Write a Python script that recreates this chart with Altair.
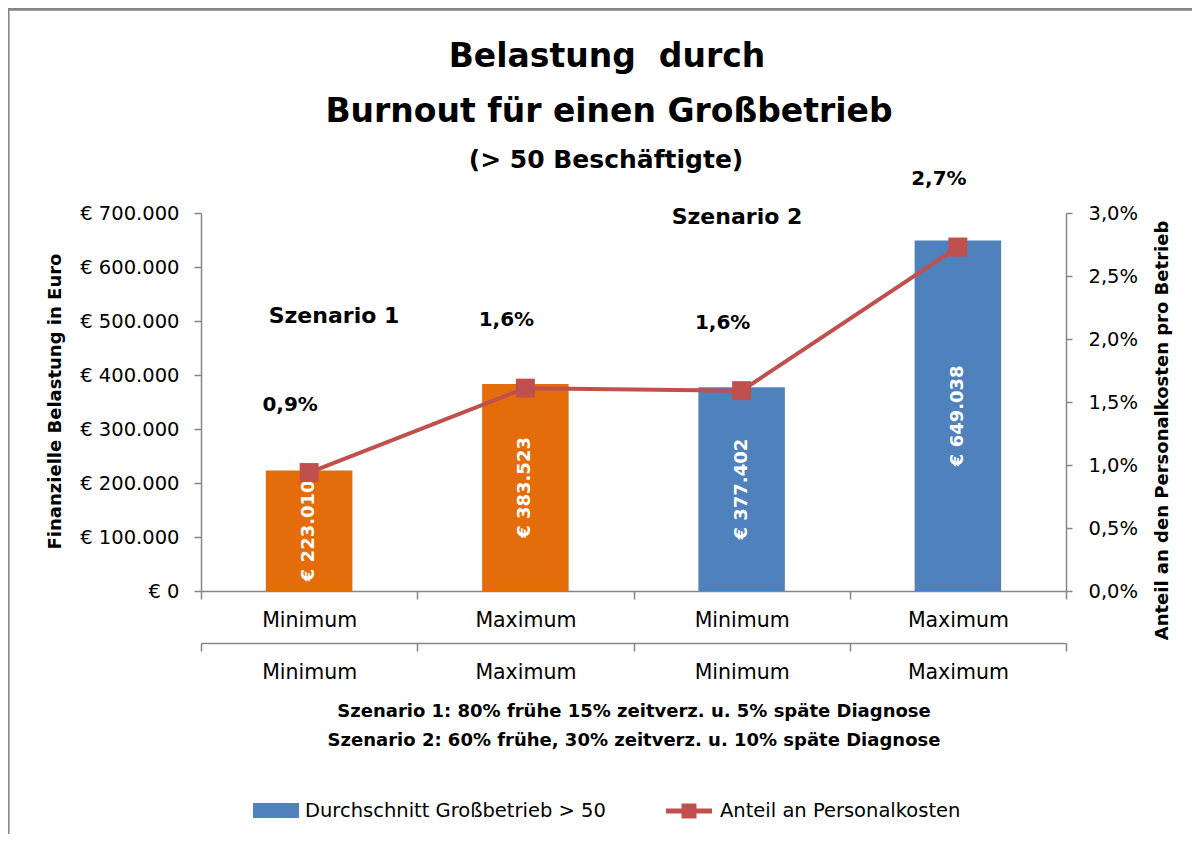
import json
import altair as alt
import pandas as pd

# ---------------- data ----------------
categories = ["1", "2", "3", "4"]
level_labels = ["Minimum", "Maximum", "Minimum", "Maximum"]
scenarios = ["Szenario 1", "Szenario 1", "Szenario 2", "Szenario 2"]
costs = [223010, 383523, 377402, 649038]
shares = [0.0094, 0.0161, 0.0159, 0.0273]
cost_ticks = [0, 100000, 200000, 300000, 400000, 500000, 600000, 700000]
share_ticks = [0.0, 0.005, 0.01, 0.015, 0.02, 0.025, 0.03]

title_lines = ["Belastung\u00a0 durch", "Burnout für einen Großbetrieb"]
subtitle = "(> 50 Beschäftigte)"
axis_note = [
    "Szenario 1: 80% frühe 15% zeitverz. u. 5% späte Diagnose",
    "Szenario 2: 60% frühe, 30% zeitverz. u. 10% späte Diagnose",
]
legend_labels = ["Durchschnitt Großbetrieb > 50", "Anteil an Personalkosten"]
scenario_names = ["Szenario 1", "Szenario 2"]

df = pd.DataFrame({
    "id": categories,
    "label": level_labels,
    "scenario": scenarios,
    "cost": costs,
    "share": shares,
})
one = pd.DataFrame({"k": [0]})

# ---------------- style ----------------
FONT = "DejaVu Sans"
GRAY = "#868686"
ORANGE = "#E46C0A"
BLUE = "#4F81BD"
RED = "#C0504D"
W, H = 865, 378

label_expr = json.dumps(level_labels) + "[toNumber(datum.value) - 1]"
euro_expr = "'€ ' + replace(format(datum.value, ','), regexp(',', 'g'), '.')"
pct_expr = "replace(format(datum.value, '.1%'), '.', ',')"

x_scale = alt.Scale(domain=categories, paddingInner=0, paddingOuter=0)

x_axis1 = alt.Axis(
    title=None, labelExpr=label_expr, labelAngle=0, tickBand="extent",
    tickSize=8, labelPadding=11, labelFont=FONT, labelFontSize=20.5,
    labelColor="black", domainColor=GRAY, tickColor=GRAY,
    domainWidth=1.5, tickWidth=1.5, grid=False,
)
x_axis2 = alt.Axis(
    orient="bottom", offset=52, labelExpr=label_expr, labelAngle=0,
    tickBand="extent", tickSize=8, labelPadding=11, labelFont=FONT,
    labelFontSize=20.5, labelColor="black", domainColor=GRAY,
    tickColor=GRAY, domainWidth=1.5, tickWidth=1.5, grid=False,
    title=axis_note, titleFont=FONT, titleFontSize=18, titleFontWeight="bold",
    titleColor="black", titlePadding=20, titleLineHeight=29,
)
left_title = "Finanzielle Belastung in Euro"
y_axis_left = alt.Axis(
    values=cost_ticks, labelExpr=euro_expr, title=left_title,
    titleFont=FONT, titleFontSize=18, titleFontWeight="bold",
    titleColor="black", titleAngle=270, titleX=-146, titleY=188,
    titleBaseline="middle", titleAlign="center",
    labelFont=FONT, labelFontSize=19.5, labelColor="black", labelPadding=15,
    tickSize=7, domainColor=GRAY, tickColor=GRAY, domainWidth=1.5,
    tickWidth=1.5, grid=False,
)
right_title = "Anteil an den Personalkosten pro Betrieb"
y_axis_right = alt.Axis(
    orient="right", values=share_ticks, labelExpr=pct_expr, title=right_title,
    titleFont=FONT, titleFontSize=18, titleFontWeight="bold",
    titleColor="black", titleAngle=270, titleX=96, titleY=217,
    titleBaseline="middle", titleAlign="center",
    labelFont=FONT, labelFontSize=19.5, labelColor="black", labelPadding=16,
    tickSize=6, domainColor=GRAY, tickColor=GRAY, domainWidth=1.5,
    tickWidth=1.5, grid=False,
)

base = alt.Chart(df)
cost_scale = alt.Scale(domain=[0, 700000])
share_scale = alt.Scale(domain=[0, 0.03])

# ---------------- bars ----------------
bars = base.mark_bar(width={"band": 0.4}).encode(
    x=alt.X("id:N", scale=x_scale, axis=x_axis1),
    y=alt.Y("cost:Q", scale=cost_scale, axis=y_axis_left),
    color=alt.Color("scenario:N",
                    scale=alt.Scale(domain=scenario_names, range=[ORANGE, BLUE]),
                    legend=None),
)
bar_text = base.transform_calculate(
    mid="datum.cost / 2",
    txt="'€ ' + replace(format(datum.cost, ','), regexp(',', 'g'), '.')",
).mark_text(
    angle=270, font=FONT, fontSize=18, fontWeight="bold", color="white",
    align="center", baseline="middle",
).encode(
    x=alt.X("id:N", scale=x_scale, title=None),
    y=alt.Y("mid:Q", scale=cost_scale, title=left_title),
    text="txt:N",
)
bar_group = alt.layer(bars, bar_text)

# ---------------- line ----------------
line = base.mark_line(color=RED, strokeWidth=4).encode(
    x=alt.X("id:N", scale=x_scale, axis=None),
    y=alt.Y("share:Q", scale=share_scale, axis=y_axis_right),
)
pts = base.mark_point(shape="square", filled=True, size=361, color=RED,
                      opacity=1).encode(
    x=alt.X("id:N", scale=x_scale, axis=None),
    y=alt.Y("share:Q", scale=share_scale, title=right_title),
)
pct_text = base.transform_calculate(
    pt="replace(format(datum.share, '.1%'), '.', ',')"
).mark_text(
    dx=-19, dy=-68, font=FONT, fontSize=20, fontWeight="bold", color="black",
    align="center", baseline="middle",
).encode(
    x=alt.X("id:N", scale=x_scale, axis=None),
    y=alt.Y("share:Q", scale=share_scale, title=right_title),
    text="pt:N",
)
line_group = alt.layer(line, pts, pct_text)

# ---------------- second category row ----------------
axis2 = base.mark_point(opacity=0, size=0).encode(
    x=alt.X("id:N", scale=x_scale, axis=x_axis2),
)


# ---------------- decorations (title, annotations, legend, frame) ----------
def text_at(s, x, y, size, weight="bold", align="center"):
    return alt.Chart(one).mark_text(
        text=s, font=FONT, fontSize=size, fontWeight=weight, align=align,
        baseline="middle", color="black",
    ).encode(x=alt.value(x), y=alt.value(y))


deco = [
    text_at(title_lines[0], 406, -156, 33),
    text_at(title_lines[1], 408, -101, 33),
    text_at(subtitle, 405, -53, 25),
    text_at(scenario_names[0], 133, 103, 22),
    text_at(scenario_names[1], 536, 4, 22),
    alt.Chart(one).mark_rect(color=BLUE).encode(
        x=alt.value(52), x2=alt.value(98), y=alt.value(590), y2=alt.value(605)),
    text_at(legend_labels[0], 104, 598, 19.5, weight="normal", align="left"),
    alt.Chart(one).mark_rule(color=RED, strokeWidth=5).encode(
        x=alt.value(465), x2=alt.value(511), y=alt.value(598)),
    alt.Chart(one).mark_point(shape="square", filled=True, size=225,
                              color=RED, opacity=1).encode(
        x=alt.value(488), y=alt.value(598)),
    text_at(legend_labels[1], 519, 598, 19.5, weight="normal", align="left"),
    alt.Chart(one).mark_rule(color=GRAY, strokeWidth=2.7).encode(
        x=alt.value(-193), x2=alt.value(991), y=alt.value(-203.6)),
    alt.Chart(one).mark_rule(color=GRAY, strokeWidth=1.6).encode(
        x=alt.value(-192.2), y=alt.value(-205), y2=alt.value(621)),
]

chart = alt.layer(bar_group, line_group, axis2, *deco).resolve_scale(
    x="independent", y="independent"
).properties(
    width=W, height=H,
    padding={"left": 193, "top": 205, "right": 126, "bottom": 243},
    autosize=alt.AutoSizeParams(type="none"),
).configure(background="white").configure_view(
    stroke="transparent", strokeWidth=0
).configure_axis(grid=False)

chart.save("out.html", embed_options={"renderer": "svg", "actions": False})
